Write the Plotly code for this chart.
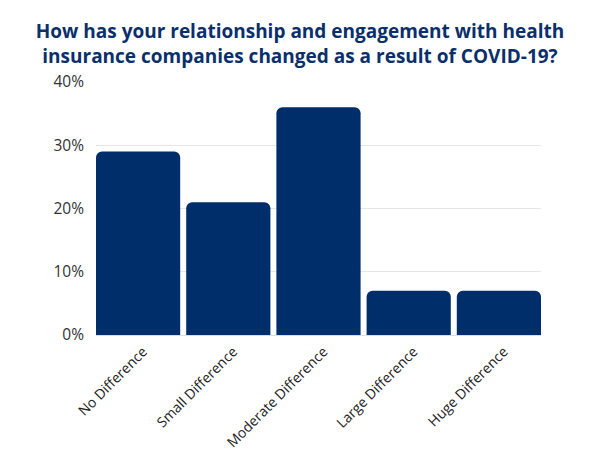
import plotly.graph_objects as go

categories = ["No Difference", "Small Difference", "Moderate Difference", "Large Difference", "Huge Difference"]
values = [29, 21, 36, 7, 7]
ytick_vals = [0, 10, 20, 30, 40]
ytick_text = ["0%", "10%", "20%", "30%", "40%"]

gap = 0.0665

fig = go.Figure(go.Bar(
    x=categories, y=values,
    marker=dict(color="#002e6a", cornerradius=6, line=dict(width=0)),
    hoverinfo="skip",
))

fig.update_layout(
    width=600, height=450,
    paper_bgcolor="white", plot_bgcolor="white",
    margin=dict(l=96, r=59, t=82, b=115),
    bargap=gap,
    showlegend=False,
    font=dict(family="Open Sans", size=14, color="#333333"),
    title=dict(
        text="How has your relationship and engagement with health<br>insurance companies changed as a result of COVID-19?",
        x=0.5, xanchor="center", y=0.915, yanchor="middle",
        font=dict(family="Open Sans", size=19, color="#0b2f6b", weight="bold"),
    ),
)
fig.update_xaxes(
    range=[-0.5 + gap / 2, len(categories) - 0.5 - gap / 2],
    tickangle=-45, showgrid=False, showline=True, linecolor="#dddddd",
    tickfont=dict(size=14, color="#222222"), ticks="", automargin=False,
    ticklabelshift=5, ticklabelstandoff=2,
)
fig.update_yaxes(
    range=[0, 40], tickvals=ytick_vals, ticktext=ytick_text,
    showgrid=True, gridcolor="#e6e6e6", zeroline=False,
    tickfont=dict(size=15.5, color="#333333"), ticks="", ticklabelstandoff=11,
    automargin=False,
)

fig.write_html("out.html", config={"displayModeBar": False},
               post_script="document.body.style.margin='0';")
